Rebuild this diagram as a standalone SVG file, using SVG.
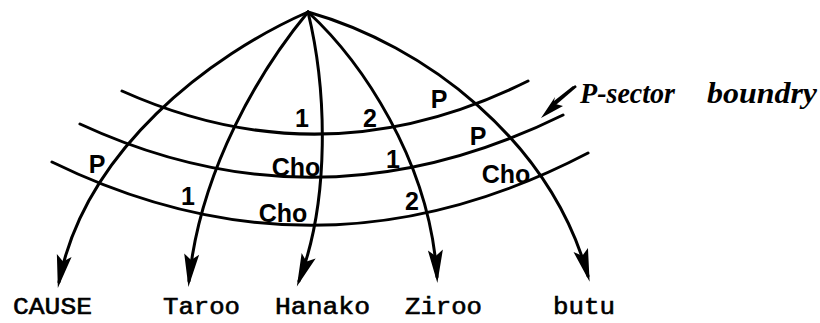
<svg xmlns="http://www.w3.org/2000/svg" width="820" height="323" viewBox="0 0 820 323">
<defs>
<style>
.c{fill:none;stroke:#000;stroke-width:3;stroke-linecap:round}
.b{fill:none;stroke:#000;stroke-width:3;stroke-linecap:round}
.l{font-family:"Liberation Sans",Arial,sans-serif;font-size:25px;font-weight:bold;text-anchor:middle;fill:#000}
.n{font-family:"Liberation Mono","Courier New",monospace;font-size:24px;fill:#000;stroke:#000;stroke-width:0.6}
.a{font-family:"Liberation Serif","Times New Roman",serif;font-size:29px;font-style:italic;font-weight:bold;fill:#000}
</style>
<marker id="ah" markerUnits="userSpaceOnUse" markerWidth="40" markerHeight="20" viewBox="-32 -10 40 20" refX="0" refY="0" orient="auto">
<path d="M6,0 L-27,-7.5 L-21,0 L-27,7.5 Z" fill="#000"/>
</marker>
</defs>
<rect width="820" height="323" fill="#fff"/>
<g id="connectors">
<path class="c" d="M308,12 C210,55 85,150 59,282" marker-end="url(#ah)"/>
<path class="c" d="M308,12 C260,70 200,170 189,281" marker-end="url(#ah)"/>
<path class="c" d="M308,12 C327,90 330,200 299,281" marker-end="url(#ah)"/>
<path class="c" d="M308,12 C360,60 430,160 437,277" marker-end="url(#ah)"/>
<path class="c" d="M308,12 C425,45 550,140 588,276" marker-end="url(#ah)"/>
</g>
<g id="sector-boundaries">
<path class="b" d="M122,91 Q325,182 528,81"/>
<path class="b" d="M80,124 Q320,235 563,115"/>
<path class="b" d="M52,162 Q320,293 588,153"/>
</g>
<g id="sector-labels">
<text class="l" x="302" y="127">1</text>
<text class="l" x="370" y="127">2</text>
<text class="l" x="439" y="108">P</text>
<text class="l" x="296" y="176">Cho</text>
<text class="l" x="393" y="168">1</text>
<text class="l" x="478" y="145">P</text>
<text class="l" x="97" y="173">P</text>
<text class="l" x="188" y="205">1</text>
<text class="l" x="283" y="222">Cho</text>
<text class="l" x="412" y="210">2</text>
<text class="l" x="506" y="183">Cho</text>
</g>
<g id="annotation">
<path d="M541,118 L563,106 L555.5,104 L575,87 L573,86 L554,101 L555,97 Z" fill="#000"/>
<path d="M555,104 L576,86" stroke="#000" stroke-width="2.5" fill="none"/>
<text class="a" x="580" y="103" textLength="95" lengthAdjust="spacingAndGlyphs">P-sector</text>
<text class="a" x="707" y="103" textLength="110" lengthAdjust="spacingAndGlyphs">boundry</text>
</g>
<g id="node-CAUSE"><text class="n" x="13" y="314" textLength="79" lengthAdjust="spacingAndGlyphs">CAUSE</text></g>
<g id="node-Taroo"><text class="n" x="163" y="314" textLength="77" lengthAdjust="spacingAndGlyphs">Taroo</text></g>
<g id="node-Hanako"><text class="n" x="275" y="314" textLength="95" lengthAdjust="spacingAndGlyphs">Hanako</text></g>
<g id="node-Ziroo"><text class="n" x="405" y="314" textLength="77" lengthAdjust="spacingAndGlyphs">Ziroo</text></g>
<g id="node-butu"><text class="n" x="553" y="314" textLength="62" lengthAdjust="spacingAndGlyphs">butu</text></g>
</svg>
